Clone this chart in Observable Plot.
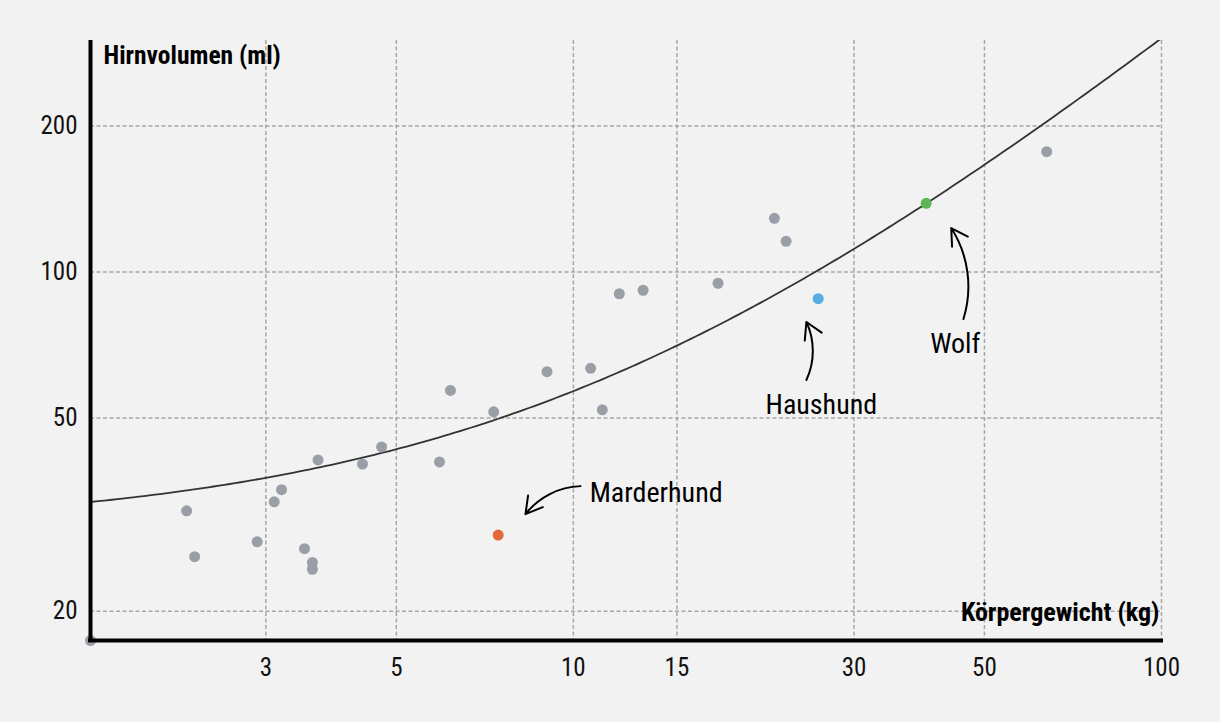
<!DOCTYPE html>
<html><head><meta charset="utf-8">
<script src="https://cdn.jsdelivr.net/npm/d3@7"></script>
<script src="https://cdn.jsdelivr.net/npm/@observablehq/plot@0.6"></script>
<style>
html,body{margin:0;padding:0;background:#f2f2f2;}
#chart svg{font-stretch:75%;}
</style></head><body><div id="chart"></div>
<script>
// Data
const bodyWeightKg = [1.51,2.20,2.27,2.90,3.10,3.19,3.49,3.60,3.60,3.68,4.38,4.72,5.92,6.18,7.32,9.02,10.7,11.2,11.97,13.14,17.62,21.97,23.0,63.8,7.45,26.08,39.8];
const brainVolumeMl = [17.4,32.2,25.9,27.8,33.6,35.6,26.9,25.2,24.4,41.0,40.2,43.6,40.6,57.0,51.5,62.3,63.3,52.0,90.2,91.7,94.8,129.0,115.7,177.0,28.7,88.1,138.5];
const speciesGroup = ["andere","andere","andere","andere","andere","andere","andere","andere","andere","andere","andere","andere","andere","andere","andere","andere","andere","andere","andere","andere","andere","andere","andere","andere","Marderhund","Haushund","Wolf"];
const groupNames = ["andere","Marderhund","Haushund","Wolf"];
const groupColors = ["#9a9ea7","#e4693a","#56ade2","#5db653"];

const xTicks = [3,5,10,15,30,50,100];
const yTicks = [20,50,100,200];
const xMax = 100, yMax = 300;

// annotations (data coordinates)
const labelNames = ["Marderhund","Haushund","Wolf"];
const labelX = [10.66,26.4,44.6];
const labelY = [35.0,53.2,71.0];
const labelAnchor = ["start","middle","middle"];
const arrowX1 = [10.28,24.9,46.05];
const arrowY1 = [36.2,59.9,80.0];
const arrowX2 = [8.29,24.9,43.9];
const arrowY2 = [31.7,78.9,123.2];
const arrowBend = [-25,-25,-25];

const points = bodyWeightKg.map((x,i)=>({x, y: brainVolumeMl[i], g: speciesGroup[i]}));
const labels = labelNames.map((t,i)=>({t, x: labelX[i], y: labelY[i], a: labelAnchor[i]}));
const arrows = arrowX1.map((x1,i)=>({x1, y1: arrowY1[i], x2: arrowX2[i], y2: arrowY2[i], b: arrowBend[i]}));

// ordinary least squares fit of volume on weight
const mx = d3.mean(bodyWeightKg), my = d3.mean(brainVolumeMl);
const slope = d3.sum(points, p => (p.x-mx)*(p.y-my)) / d3.sum(points, p => (p.x-mx)**2);
const intercept = my - slope*mx;
const xMin = d3.min(bodyWeightKg), yMin = d3.min(brainVolumeMl);
const fitX = d3.range(0, 201).map(i => xMin * Math.pow(xMax/xMin, i/200));
const fit = fitX.map(x => ({x, y: intercept + slope*x}));

const arrowMarks = arrows.map(a => Plot.arrow([a], {x1: "x1", y1: "y1", x2: "x2", y2: "y2", bend: a.b, stroke: "#000", strokeWidth: 2, headLength: 14}));

const font = "Roboto, 'Noto Sans', sans-serif";
const chart = Plot.plot({
  width: 1220, height: 722,
  marginLeft: 90, marginRight: 59, marginTop: 40, marginBottom: 82,
  style: {background: "#f2f2f2", fontFamily: font, fontSize: "25px", color: "#111"},
  x: {type: "log", domain: [xMin, xMax]},
  y: {type: "log", domain: [yMin, yMax]},
  color: {domain: groupNames, range: groupColors},
  marks: [
    Plot.gridX(xTicks, {stroke: "#a6a6a6", strokeOpacity: 1, strokeWidth: 1.5, strokeDasharray: "4,2.5"}),
    Plot.gridY(yTicks, {stroke: "#a6a6a6", strokeOpacity: 1, strokeWidth: 1.5, strokeDasharray: "4,2.5"}),
    Plot.axisX(xTicks, {tickSize: 0, tickPadding: 18, tickFormat: d => String(d), label: null, fontSize: 25}),
    Plot.axisY(yTicks, {tickSize: 0, tickPadding: 13, tickFormat: d => String(d), label: null, fontSize: 25}),
    Plot.line(fit, {x: "x", y: "y", stroke: "#333", strokeWidth: 1.8, clip: true}),
    Plot.dot(points, {x: "x", y: "y", fill: "g", r: 5.5}),
    Plot.ruleX([xMin], {stroke: "#000", strokeWidth: 4}),
    Plot.ruleY([yMin], {stroke: "#000", strokeWidth: 4, x1: xMin, x2: xMax, insetLeft: -2, insetRight: -2}),
    ...arrowMarks,
    Plot.text(labels, {x: "x", y: "y", text: "t", textAnchor: "start", fontSize: 28, fill: "#000", filter: d => d.a === "start"}),
    Plot.text(labels, {x: "x", y: "y", text: "t", textAnchor: "middle", fontSize: 28, fill: "#000", filter: d => d.a === "middle"}),
    Plot.text(["Hirnvolumen (ml)"], {frameAnchor: "top-left", textAnchor: "start", lineAnchor: "middle", dx: 13, dy: 15, fontWeight: "bold", fontSize: 25.5, fill: "#000"}),
    Plot.text(["Körpergewicht (kg)"], {frameAnchor: "bottom-right", textAnchor: "end", lineAnchor: "middle", dx: -2, dy: -28, fontWeight: "bold", fontSize: 26, fill: "#000"})
  ]
});
document.getElementById("chart").append(chart);
</script></body></html>
